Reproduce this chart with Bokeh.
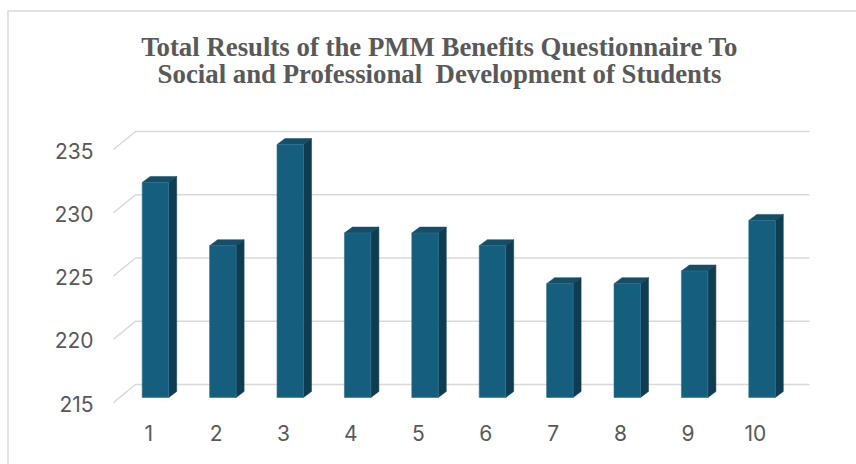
import numpy as np
from bokeh.plotting import figure
from bokeh.models import Range1d
from bokeh.core.properties import value
from bokeh.embed import file_html
from bokeh.resources import INLINE

# ---------------- data ----------------
categories = [1, 2, 3, 4, 5, 6, 7, 8, 9, 10]
scores = [232, 227, 235, 228, 228, 227, 224, 224, 225, 229]
y_ticks = [215, 220, 225, 230, 235]
x_labels = ["1", "2", "3", "4", "5", "6", "7", "8", "9", "10"]
y_labels = ["215", "220", "225", "230", "235"]
title_lines = [
    "Total Results of the PMM Benefits Questionnaire To",
    "Social and Professional \u00a0Development of Students",
]

# ---------------- layout / style constants ----------------
W, H = 856, 464          # canvas (page has no margin)
FL, FT = 7, 10           # chart box left / top border (page px)
CAT_PX = 67.4            # pixels per category
UNIT_PX = 12.65          # pixels per value unit
FLOOR_LEFT = 113         # page px of front floor's left edge
FLOOR_BASE = 402         # page px of front floor at baseline value
Y0 = y_ticks[0]

def dx(px):
    return px / CAT_PX

def dy(px):
    return px / UNIT_PX

def xpx(px):  # page px -> data x
    return 0.5 + (px - FLOOR_LEFT) / CAT_PX

def ypx(py):  # page px -> data y
    return Y0 + (FLOOR_BASE - py) / UNIT_PX

GRID = "#d9d9d9"
TXT = "#595959"
FRONT = "#165e7d"
SIDE = "#0e3d51"
TOP = "#134f69"

p = figure(width=W, height=H, output_backend="svg", toolbar_location=None,
           x_axis_type=None, y_axis_type=None, min_border=0,
           x_range=Range1d(xpx(0), xpx(W)),
           y_range=Range1d(ypx(H), ypx(0)))
p.outline_line_color = None
p.background_fill_color = "white"
p.border_fill_color = "white"

# chart box border (left and top edges; the rest lies outside the window)
p.line([xpx(FL + 0.5), xpx(FL + 0.5), xpx(W + 20)],
       [ypx(H + 20), ypx(FT + 0.5), ypx(FT + 0.5)],
       line_color=GRID, line_width=1.5)

# ---------------- 3D gridlines (wall + floor edge) ----------------
n = len(categories)
back_dx, back_dy = dx(22), dy(18)
gx, gy = [], []
for t in y_ticks:
    gx.append([0.5, 0.5 + back_dx, n + 0.5 + back_dx])
    gy.append([t, t + back_dy, t + back_dy])
p.multi_line(gx, gy, line_color=GRID, line_width=1.6)

# ---------------- 3D bars ----------------
c = np.array(categories, dtype=float)
v = np.array(scores, dtype=float)
L = c + dx(-5)
R = c + dx(21.5)
bottom = Y0 + dy(5)
top = v + dy(5)
ddx, ddy = dx(8), dy(6)

top_xs = [[l, r, r + ddx, l + ddx] for l, r in zip(L, R)]
top_ys = [[t, t, t + ddy, t + ddy] for t in top]
side_xs = [[r, r + ddx, r + ddx, r] for r in R]
side_ys = [[bottom, bottom + ddy, t + ddy, t] for t in top]

p.patches(top_xs, top_ys, fill_color=TOP, line_color=TOP, line_width=0.5)
p.patches(side_xs, side_ys, fill_color=SIDE, line_color=SIDE, line_width=0.5)
p.quad(left=L, right=R, bottom=bottom, top=top,
       fill_color=FRONT, line_color="#2f7393", line_width=0.6)

# ---------------- tick labels ----------------
p.text(x=list(c + dx(1.5)), y=[ypx(432)] * n, text=x_labels,
       text_font=value("Inter"), text_font_size="21px", text_color=TXT,
       text_align="center", text_baseline="alphabetic")
p.text(x=[xpx(93)] * len(y_ticks), y=[t - dy(1) for t in y_ticks], text=y_labels,
       text_font=value("Inter"), text_font_size="21px", text_color=TXT,
       text_align="right", text_baseline="alphabetic")

# ---------------- title ----------------
p.text(x=[xpx(439)] * 2, y=[ypx(46), ypx(73)], text=title_lines,
       text_font=value("Liberation Serif"), text_font_style="bold",
       text_font_size="26.8px", text_color=TXT,
       text_align="center", text_baseline="alphabetic")

open("out.html", "w").write(file_html(p, INLINE))
